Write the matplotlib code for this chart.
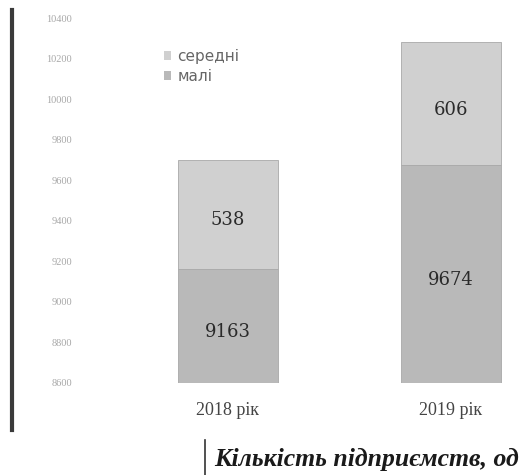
import matplotlib
matplotlib.use("Agg")
import matplotlib.pyplot as plt
from matplotlib.lines import Line2D
from matplotlib.patches import Patch

categories = ["2018 рік", "2019 рік"]
mali = [9163, 9674]
seredni = [538, 606]
yticks = [8600, 8800, 9000, 9200, 9400, 9600, 9800, 10000, 10200, 10400]
series_names = ["середні", "малі"]
title_text = "Кількість підприємств, од"

W, H = 523, 475
fig = plt.figure(figsize=(W / 100, H / 100), dpi=100)
ax = fig.add_axes([100 / W, (H - 383) / H, 1 - 100 / W, (383 - 18) / H])

x = list(range(len(categories)))
c_mali = "#b9b9b9"
c_ser = "#d0d0d0"
bw = 0.45
ax.bar(x, mali, width=bw, color=c_mali, bottom=0, edgecolor="#a8a8a8", linewidth=0.6)
ax.bar(x, seredni, width=bw, bottom=mali, color=c_ser, edgecolor="#a8a8a8", linewidth=0.6)

ymin, ymax = yticks[0], yticks[-1]
ax.set_ylim(ymin, ymax)
ax.set_xlim(-0.574, 1.323)

for i in x:
    ax.text(i, (ymin + mali[i]) / 2 - 30, str(mali[i]), ha="center", va="center",
            fontsize=13, family="DejaVu Serif", color="#2a2a2a")
    ax.text(i, mali[i] + seredni[i] / 2 - 30, str(seredni[i]), ha="center", va="center",
            fontsize=13, family="DejaVu Serif", color="#2a2a2a")

ax.set_yticks(yticks)
ax.set_yticklabels([str(v) for v in yticks], fontsize=7.5, color="#a8a8a8",
                   family="Liberation Serif")
ax.set_xticks(x)
ax.set_xticklabels(categories, fontsize=13, family="Liberation Serif", color="#444444")
ax.tick_params(axis="both", length=0)
ax.tick_params(axis="y", pad=20)
ax.tick_params(axis="x", pad=14)
for s in ax.spines.values():
    s.set_visible(False)

handles = [Patch(facecolor=c_ser, edgecolor="none"), Patch(facecolor=c_mali, edgecolor="none")]
leg = fig.legend(handles, series_names, loc="upper left", bbox_to_anchor=(150 / W, 1 - 35 / H),
                 frameon=False, fontsize=11, handlelength=0.5, handleheight=0.5,
                 handletextpad=0.4, labelspacing=0.35)
for t in leg.get_texts():
    t.set_color("#666666")

# title (partially cut as in the reference)
fig.text(214 / W, 1 - 466 / H, title_text, fontsize=18.5, fontweight="bold", fontstyle="italic",
         family="Liberation Serif", color="#1a1a1a", ha="left", va="baseline")
fig.add_artist(Line2D([205 / W, 205 / W], [0, 1 - 440 / H], transform=fig.transFigure,
                      color="#333333", linewidth=1.2))
# scanned page edge
fig.add_artist(Line2D([12 / W, 12 / W], [1 - 430 / H, 1 - 10 / H], transform=fig.transFigure,
                      color="#3a3a3a", linewidth=3))

fig.savefig("out.png", dpi=100)
